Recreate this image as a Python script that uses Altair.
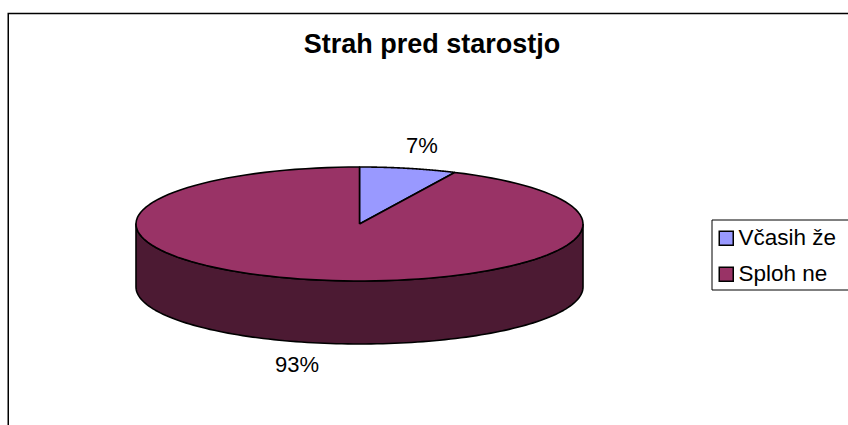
import altair as alt
import pandas as pd

# ---- data ----
categories = ["Včasih že", "Sploh ne"]
values = [7, 93]
top_colors = ["#9999FF", "#993366"]
side_colors = ["#4C4C80", "#4C1A33"]
title_text = "Strah pred starostjo"

# ---- layout (pixels) ----
W, H = 848, 425
CX, CY = 359.5, 224.0
RX, RY = 223.5, 57.0
DEPTH = 63.0
N = 120
FONT = "Liberation Sans"

df = pd.DataFrame({"idx": list(range(len(categories))), "cat": categories, "val": values})

xs = alt.X("px:Q", scale=alt.Scale(domain=[0, W], range=[0, W]), axis=None)
ys = alt.Y("py:Q", scale=alt.Scale(domain=[0, H], range=[0, H]), axis=None)


def base():
    return (
        alt.Chart(df)
        .transform_joinaggregate(total="sum(val)")
        .transform_window(cum="sum(val)", sort=[alt.SortField("idx")], frame=[None, 0])
        .transform_calculate(
            a1="2*PI*datum.cum/datum.total",
            a0="2*PI*(datum.cum-datum.val)/datum.total",
        )
    )


side = (
    base()
    .transform_calculate(lo="max(datum.a0, PI/2)", hi="min(datum.a1, 3*PI/2)")
    .transform_filter("datum.hi > datum.lo")
    .transform_calculate(k=f"sequence(0, {2*N+3})")
    .transform_flatten(["k"])
    .transform_calculate(
        bottom=f"datum.k > {N} && datum.k <= {2*N+1}",
        ang=(f"datum.k <= {N} ? datum.lo + (datum.hi-datum.lo)*datum.k/{N} : "
             f"(datum.k <= {2*N+1} ? datum.hi - (datum.hi-datum.lo)*(datum.k-{N+1})/{N} : datum.lo)"),
    )
    .transform_calculate(
        px=f"{CX} + {RX}*sin(datum.ang)",
        py=f"{CY} - {RY}*cos(datum.ang) + (datum.bottom ? {DEPTH} : 0)",
    )
    .mark_line(stroke="black", strokeWidth=1.6, strokeJoin="round")
    .encode(
        x=xs, y=ys, order=alt.Order("k:Q"),
        fill=alt.Fill("cat:N", scale=alt.Scale(domain=categories, range=side_colors), legend=None),
    )
)

top = (
    base()
    .transform_calculate(k=f"sequence(0, {N+3})")
    .transform_flatten(["k"])
    .transform_calculate(
        onarc=f"datum.k >= 1 && datum.k <= {N+1}",
        ang=f"datum.a0 + (datum.a1-datum.a0)*clamp(datum.k-1, 0, {N})/{N}",
    )
    .transform_calculate(
        px=f"datum.onarc ? {CX} + {RX}*sin(datum.ang) : {CX}",
        py=f"datum.onarc ? {CY} - {RY}*cos(datum.ang) : {CY}",
    )
    .mark_line(stroke="black", strokeWidth=1.6, strokeJoin="round")
    .encode(
        x=xs, y=ys, order=alt.Order("k:Q"),
        fill=alt.Fill(
            "cat:N",
            scale=alt.Scale(domain=categories, range=top_colors),
            legend=alt.Legend(
                title=None, orient="none", legendX=708, legendY=220, padding=7,
                symbolType="square", symbolSize=196, symbolStrokeColor="black",
                symbolStrokeWidth=1.5, symbolOpacity=1,
                labelFont=FONT, labelFontSize=22.5, labelColor="black",
                labelOffset=1, rowPadding=13,
            ),
        ),
    )
)

labels = (
    base()
    .transform_calculate(
        mid="(datum.a0+datum.a1)/2",
        pct="format(datum.val/datum.total, '.0%')",
    )
    .transform_calculate(
        px=f"{CX} + {RX}*1.28*sin(datum.mid)",
        py=f"{CY} - {RY}*1.40*cos(datum.mid) + (cos(datum.mid) < 0 ? {DEPTH} : 0)",
    )
    .mark_text(font=FONT, fontSize=22, color="black", baseline="middle", align="center")
    .encode(x=xs, y=ys, text="pct:N")
)

deco = pd.DataFrame({"d": [0]})
frame = alt.Chart(deco).mark_rect(filled=False, stroke="black", strokeWidth=1.5).encode(
    x=alt.value(8.25), y=alt.value(13.5), x2=alt.value(900), y2=alt.value(500)
)
legend_box = alt.Chart(deco).mark_rect(filled=False, stroke="black", strokeWidth=1).encode(
    x=alt.value(712), y=alt.value(220), x2=alt.value(900), y2=alt.value(290)
)

chart = (
    alt.layer(frame, legend_box, side, top, labels)
    .resolve_scale(fill="independent")
    .properties(
        width=W, height=H, padding=0, autosize=alt.AutoSizeParams(type="none"),
        background="white",
        title=alt.TitleParams(
            text=title_text, font=FONT, fontSize=27, fontWeight="bold", color="black",
            anchor="middle", offset=0, dy=80, dx=8, baseline="alphabetic",
        ),
    )
    .configure_view(strokeWidth=0)
)

chart.save("out.html", embed_options={"renderer": "svg", "actions": False})
